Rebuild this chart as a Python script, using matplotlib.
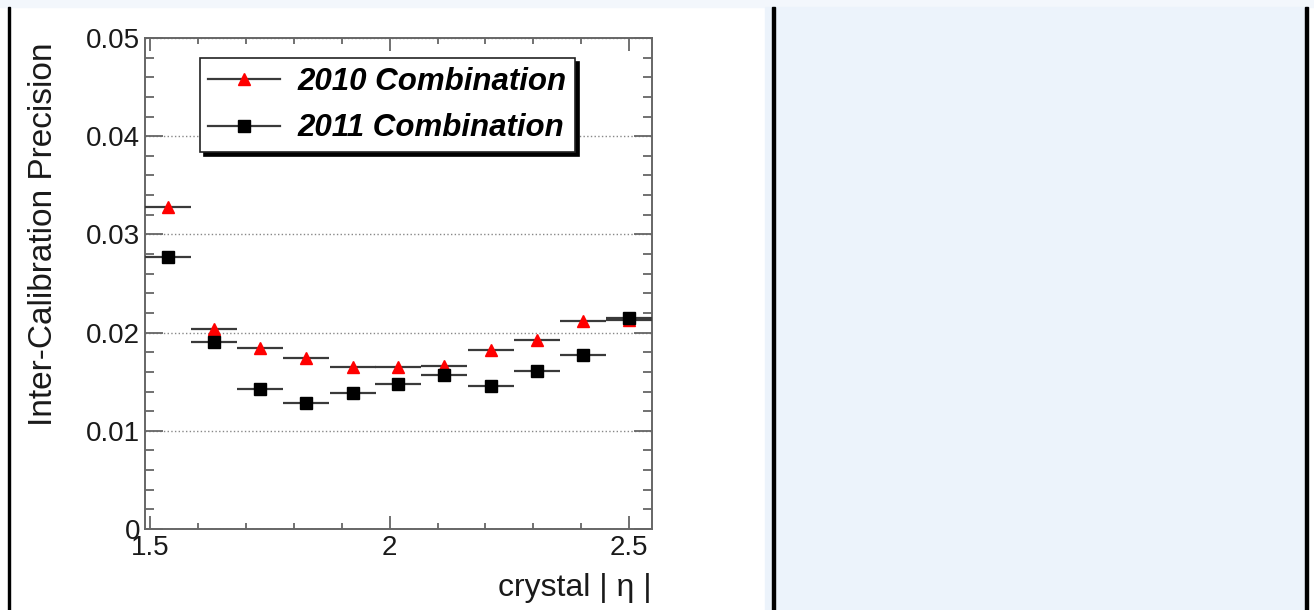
import matplotlib
matplotlib.use('Agg')
import matplotlib.pyplot as plt
from matplotlib.lines import Line2D
from matplotlib.patches import Rectangle
from matplotlib.ticker import MultipleLocator

plt.rcParams['font.family'] = ['Liberation Sans', 'DejaVu Sans']

# data
eta = [1.537, 1.633, 1.730, 1.826, 1.923, 2.018, 2.114, 2.211, 2.307, 2.403, 2.500]
eta_half_width = 0.048
prec_2010 = [0.0328, 0.0204, 0.0184, 0.0174, 0.0165, 0.0165, 0.0166, 0.0182, 0.0192, 0.0212, 0.0213]
prec_2011 = [0.0277, 0.0190, 0.0143, 0.0128, 0.0139, 0.0148, 0.0157, 0.0146, 0.0161, 0.0177, 0.0215]
y_ticks = [0, 0.01, 0.02, 0.03, 0.04, 0.05]
y_labels = ['0', '0.01', '0.02', '0.03', '0.04', '0.05']
x_ticks = [1.5, 2, 2.5]
x_labels = ['1.5', '2', '2.5']

W, H = 1314, 610
fig = plt.figure(figsize=(W / 100, H / 100), dpi=100)
fig.patch.set_facecolor('white')

# page decoration (table cell borders, blue side panel)
blue = '#ecf3fb'
def px_rect(x0, y0, x1, y1, color):
    fig.patches.append(Rectangle((x0 / W, 1 - y1 / H), (x1 - x0) / W, (y1 - y0) / H,
                                 transform=fig.transFigure, color=color, zorder=0))
px_rect(0, 0, W, 7, '#f3f7fc')
px_rect(765, 7, 1306, H, blue)
px_rect(8, 7, 10, H, 'black')
px_rect(772, 7, 775, H, 'black')
px_rect(1305, 7, 1308, H, 'black')

ax = fig.add_axes([145 / W, 1 - 529 / H, (652 - 145) / W, (529 - 38) / H])
ax.set_facecolor('white')

ax.errorbar(eta, prec_2010, xerr=eta_half_width, fmt='^', color='red', ms=8,
            ecolor='#3a3a3a', elinewidth=1.6, capsize=0, zorder=3)
ax.errorbar(eta, prec_2011, xerr=eta_half_width, fmt='s', color='black', ms=9,
            ecolor='#3a3a3a', elinewidth=1.6, capsize=0, zorder=4)

ax.set_xlim(1.489, 2.548)
ax.set_ylim(0, 0.05)

# ROOT style ticks
ax.set_xticks(x_ticks)
ax.set_xticklabels(x_labels)
ax.set_yticks(y_ticks)
ax.set_yticklabels(y_labels)
ax.xaxis.set_minor_locator(MultipleLocator(0.1))
ax.yaxis.set_minor_locator(MultipleLocator(0.002))
ax.tick_params(which='both', direction='in', top=True, right=True, color='#666666',
               width=1.3, labelsize=20, labelcolor='#1a1a1a')
ax.tick_params(axis='x', which='major', length=9.5, pad=4)
ax.tick_params(axis='x', which='minor', length=4.5)
ax.tick_params(axis='y', which='major', length=13, pad=3.5)
ax.tick_params(axis='y', which='minor', length=6.5)
for s in ax.spines.values():
    s.set_color('#666666')
    s.set_linewidth(1.4)

# dotted horizontal grid
ax.yaxis.grid(True, which='major', linestyle=':', color='#888888', linewidth=1)
ax.set_axisbelow(True)

ax.set_ylabel('Inter-Calibration Precision', fontsize=24, color='#1a1a1a')
ax.yaxis.set_label_coords(-0.17, 0.6)
ax.set_xlabel('crystal | η |', fontsize=23, color='#1a1a1a', loc='right', labelpad=9)

# legend with black shadow
h1 = Line2D([], [], color='#3a3a3a', lw=1.6, marker='^', ms=8,
            markerfacecolor='red', markeredgecolor='red')
h2 = Line2D([], [], color='#3a3a3a', lw=1.6, marker='s', ms=9,
            markerfacecolor='black', markeredgecolor='black')
leg = ax.legend([h1, h2], ['2010 Combination', '2011 Combination'],
                loc='upper left', bbox_to_anchor=(0.1085, 0.959),
                prop={'weight': 'bold', 'style': 'italic', 'size': 22.5},
                fancybox=False, edgecolor='#222222', framealpha=1,
                shadow={'ox': 3, 'oy': -3, 'color': 'black', 'alpha': 1},
                handlelength=2.3, handletextpad=0.55, borderpad=0.27,
                labelspacing=0.54, borderaxespad=0)
leg.get_frame().set_linewidth(1.2)

fig.savefig('out.png', dpi=100)
